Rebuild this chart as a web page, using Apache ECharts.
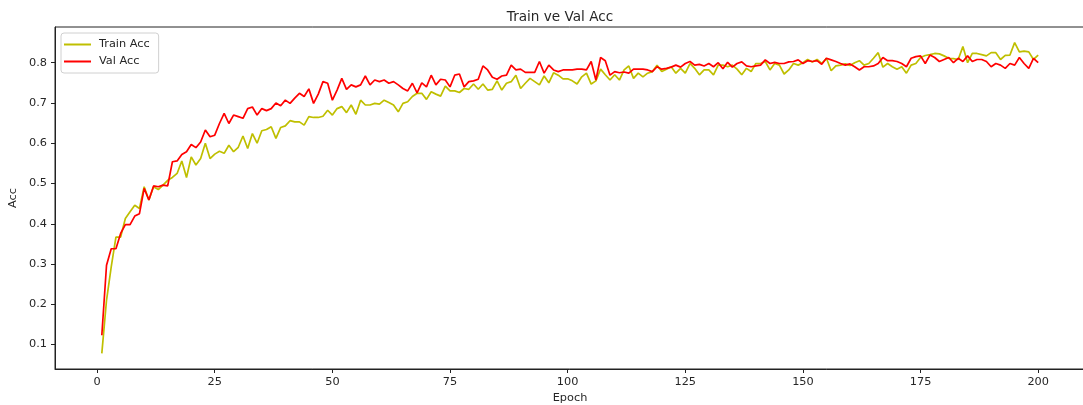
<!DOCTYPE html>
<html>
<head>
<meta charset="utf-8">
<script src="https://cdn.jsdelivr.net/npm/echarts@6/dist/echarts.min.js"></script>
<style>html,body{margin:0;padding:0;background:#fff}#c{width:1083px;height:405px}</style>
</head>
<body>
<div id="c"></div>
<script>
const epochs = Array.from({length: 200}, (_, i) => i + 1);
const trainAcc = [
0.078,0.210,0.293,0.367,0.367,0.413,0.430,0.446,0.438,0.492,
0.459,0.492,0.485,0.496,0.508,0.515,0.525,0.556,0.515,0.566,
0.546,0.562,0.600,0.562,0.573,0.580,0.575,0.595,0.579,0.590,
0.618,0.587,0.624,0.600,0.631,0.634,0.641,0.612,0.639,0.643,
0.656,0.653,0.653,0.645,0.666,0.664,0.664,0.667,0.682,0.670,
0.686,0.691,0.676,0.695,0.672,0.707,0.695,0.695,0.699,0.697,
0.707,0.701,0.695,0.678,0.699,0.703,0.716,0.724,0.724,0.709,
0.728,0.722,0.717,0.742,0.730,0.730,0.726,0.736,0.734,0.747,
0.734,0.747,0.732,0.734,0.755,0.732,0.749,0.753,0.769,0.736,
0.749,0.761,0.753,0.745,0.767,0.750,0.775,0.769,0.760,0.760,
0.755,0.747,0.765,0.774,0.747,0.755,0.784,0.770,0.757,0.770,
0.757,0.782,0.792,0.761,0.774,0.765,0.774,0.778,0.794,0.778,
0.784,0.790,0.774,0.786,0.774,0.798,0.786,0.770,0.782,0.782,
0.770,0.794,0.794,0.790,0.794,0.784,0.770,0.786,0.778,0.798,
0.798,0.803,0.782,0.798,0.794,0.772,0.782,0.798,0.794,0.800,
0.808,0.802,0.808,0.798,0.811,0.780,0.792,0.794,0.797,0.793,
0.800,0.805,0.794,0.798,0.811,0.825,0.789,0.798,0.790,0.784,
0.790,0.774,0.794,0.798,0.813,0.818,0.820,0.823,0.822,0.817,
0.811,0.810,0.808,0.840,0.800,0.823,0.823,0.820,0.817,0.825,
0.825,0.808,0.818,0.819,0.850,0.827,0.829,0.827,0.808,0.819
];
const valAcc = [
0.123,0.297,0.338,0.338,0.376,0.398,0.398,0.419,0.425,0.488,
0.459,0.494,0.492,0.496,0.494,0.554,0.556,0.572,0.579,0.597,
0.589,0.603,0.633,0.616,0.620,0.649,0.674,0.649,0.670,0.666,
0.662,0.686,0.690,0.670,0.686,0.681,0.686,0.700,0.693,0.707,
0.699,0.712,0.724,0.716,0.735,0.699,0.722,0.753,0.749,0.707,
0.732,0.761,0.734,0.745,0.740,0.745,0.767,0.745,0.757,0.753,
0.757,0.749,0.753,0.745,0.736,0.730,0.749,0.725,0.750,0.740,
0.769,0.745,0.759,0.757,0.740,0.769,0.772,0.740,0.753,0.755,
0.759,0.792,0.782,0.764,0.759,0.767,0.769,0.794,0.782,0.784,
0.776,0.776,0.776,0.803,0.774,0.794,0.782,0.778,0.782,0.782,
0.782,0.784,0.784,0.782,0.803,0.757,0.813,0.805,0.769,0.778,
0.775,0.777,0.774,0.784,0.784,0.784,0.782,0.778,0.790,0.784,
0.786,0.789,0.794,0.789,0.798,0.803,0.794,0.796,0.792,0.798,
0.790,0.800,0.785,0.801,0.789,0.798,0.802,0.792,0.790,0.792,
0.794,0.807,0.798,0.801,0.798,0.798,0.802,0.803,0.807,0.798,
0.805,0.803,0.805,0.796,0.811,0.807,0.803,0.798,0.794,0.797,
0.790,0.782,0.790,0.790,0.792,0.798,0.813,0.805,0.805,0.803,
0.798,0.790,0.811,0.815,0.817,0.798,0.819,0.813,0.803,0.808,
0.813,0.800,0.811,0.803,0.817,0.803,0.808,0.808,0.803,0.790,
0.798,0.794,0.786,0.798,0.794,0.813,0.798,0.786,0.811,0.800
];
const xTicks = [0, 25, 50, 75, 100, 125, 150, 175, 200];
const yTicks = [0.1, 0.2, 0.3, 0.4, 0.5, 0.6, 0.7, 0.8];

const FONT = 'DejaVu Sans';
const TXT = '#262626';
const FS = 11.3;
const chart = echarts.init(document.getElementById('c'), null, {renderer: 'canvas'});
chart.setOption({
  animation: false,
  backgroundColor: '#fff',
  title: {
    text: 'Train ve Val Acc',
    left: 555, top: 5, textAlign: 'center',
    textStyle: {fontFamily: FONT, fontSize: 13.6, fontWeight: 'normal', color: TXT}
  },
  legend: {
    orient: 'vertical',
    left: 61, top: 33,
    backgroundColor: 'rgba(255,255,255,0.8)',
    borderColor: '#d0d0d0', borderWidth: 1, borderRadius: 3,
    padding: [6, 9, 6, 3],
    itemGap: 6,
    itemWidth: 27, itemHeight: 2,
    icon: 'rect',
    textStyle: {fontFamily: FONT, fontSize: FS, color: TXT, padding: [0, 0, 0, 3]},
    data: ['Train Acc', 'Val Acc']
  },
  grid: {left: 55, right: -2, top: 27, bottom: 36, show: true, borderColor: '#222', borderWidth: 1,
    backgroundColor: 'transparent', containLabel: false, outerBoundsMode: 'none'},
  xAxis: {
    type: 'value', min: -8.95, max: 209.95,
    name: 'Epoch', nameLocation: 'middle', nameGap: 23,
    nameTextStyle: {fontFamily: FONT, fontSize: FS, color: TXT},
    axisLine: {show: true, onZero: false, lineStyle: {color: '#222', width: 1}},
    axisTick: {show: true, length: 4, lineStyle: {color: '#222'}, customValues: xTicks},
    axisLabel: {fontFamily: FONT, fontSize: FS, color: TXT, margin: 8, customValues: xTicks},
    splitLine: {show: false}
  },
  yAxis: {
    type: 'value', min: 0.0393, max: 0.8887,
    name: 'Acc', nameLocation: 'middle', nameGap: 35,
    nameTextStyle: {fontFamily: FONT, fontSize: FS, color: TXT},
    axisLine: {show: true, onZero: false, lineStyle: {color: '#222', width: 1}},
    axisTick: {show: true, length: 4, lineStyle: {color: '#222'}, customValues: yTicks},
    axisLabel: {fontFamily: FONT, fontSize: FS, color: TXT, margin: 8, customValues: yTicks,
      formatter: v => v.toFixed(1)},
    splitLine: {show: false}
  },
  series: [
    {name: 'Train Acc', type: 'line', showSymbol: false, symbol: 'none',
     data: epochs.map((e, i) => [e, trainAcc[i]]),
     itemStyle: {color: '#bfbf00'}, lineStyle: {color: '#bfbf00', width: 1.7}},
    {name: 'Val Acc', type: 'line', showSymbol: false, symbol: 'none',
     data: epochs.map((e, i) => [e, valAcc[i]]),
     itemStyle: {color: '#ff0000'}, lineStyle: {color: '#ff0000', width: 1.7}}
  ]
});
</script>
</body>
</html>
